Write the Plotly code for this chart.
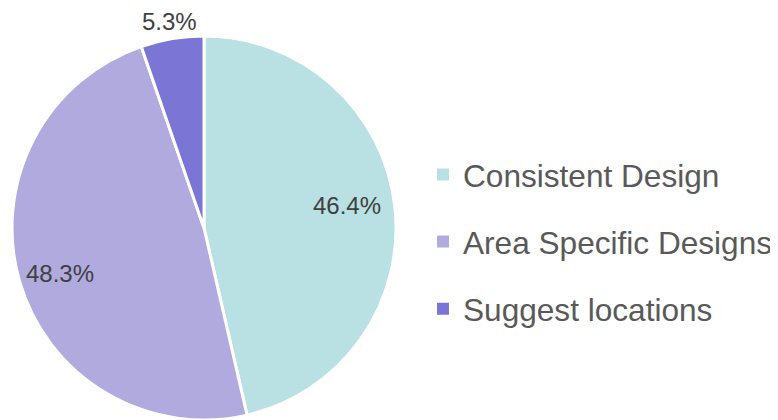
import math
import plotly.graph_objects as go

labels = ["Consistent Design", "Area Specific Designs", "Suggest locations"]
values = [46.4, 48.3, 5.3]
colors = ["#b9e0e3", "#b0aade", "#7b75d6"]
label_radius = [0.75, 0.779, 1.09]  # fraction of pie radius where each percentage label sits
label_yshift = [6, -4, 0]            # small vertical nudges of the labels, in pixels

W, H = 778, 420
CX, CY, R = 196, 220, 192  # pie centre and radius in figure pixels (page adds an 8px body margin)

fig = go.Figure()
fig.add_trace(go.Pie(
    labels=labels, values=values, sort=False, direction="clockwise", rotation=0,
    marker=dict(colors=colors, line=dict(color="white", width=3)),
    textinfo="none", showlegend=False, hoverinfo="label+percent",
    domain=dict(x=[(CX - R) / W, (CX + R) / W], y=[1 - (CY + R) / H, 1 - (CY - R) / H]),
))

total = sum(values)
cum = 0.0
font = dict(family="Liberation Sans, Arial, sans-serif", size=24, color="#404040")
for v, f, dy in zip(values, label_radius, label_yshift):
    theta = 2 * math.pi * (cum + v / 2) / total
    cum += v
    px = CX + R * f * math.sin(theta)
    py = CY - R * f * math.cos(theta)
    fig.add_annotation(
        x=px / W, y=1 - py / H, xref="paper", yref="paper",
        text=f"{100 * v / total:.1f}%", showarrow=False, font=font,
        xanchor="center", yanchor="middle", yshift=dy,
    )

for lab, col in zip(labels, colors):
    fig.add_trace(go.Scatter(
        x=[None], y=[None], mode="markers", name=lab, legendgroup=lab,
        marker=dict(symbol="square", size=12, color=col),
    ))

fig.update_layout(
    width=W, height=H,
    margin=dict(l=0, r=0, t=0, b=0),
    paper_bgcolor="white", plot_bgcolor="white",
    xaxis=dict(visible=False), yaxis=dict(visible=False),
    legend=dict(
        x=1 - 8 / W, xanchor="right", y=1 - 234 / H, yanchor="middle",
        font=dict(family="Liberation Sans, Arial, sans-serif", size=31.6, color="#595959"),
        tracegroupgap=23, bgcolor="rgba(0,0,0,0)",
    ),
)

fig.write_html("out.html")
